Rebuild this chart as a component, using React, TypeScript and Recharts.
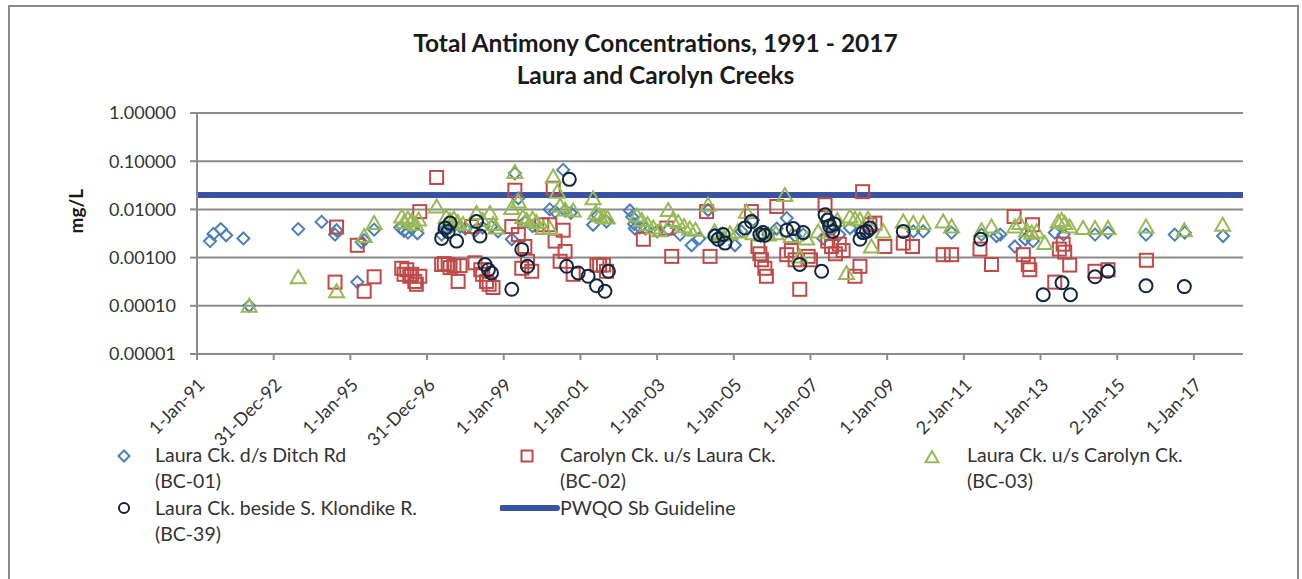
import {
    ScatterChart,
    Scatter,
    XAxis,
    YAxis,
    CartesianGrid,
    ReferenceLine
} from 'recharts';

// [decimal year, mg/L]
const bc01: [number, number][] = [
    [1991.34, 0.0022], [1991.43, 0.0031], [1991.62, 0.0039], [1991.76, 0.0029], [1992.21, 0.0025],
    [1992.36, 0.0001], [1993.64, 0.0039], [1994.25, 0.0055], [1994.6, 0.003], [1994.64, 0.0037],
    [1995.18, 0.00031], [1995.29, 0.0021], [1995.36, 0.0023], [1995.62, 0.0038], [1996.3, 0.0042],
    [1996.4, 0.0036], [1996.5, 0.0033], [1996.6, 0.004], [1996.75, 0.0032], [1997.38, 0.003],
    [1997.45, 0.0038], [1997.6, 0.0042], [1997.86, 0.0044], [1998.0, 0.004], [1998.25, 0.0036],
    [1998.45, 0.0042], [1998.68, 0.0044], [1998.85, 0.0035], [1999.21, 0.0024], [1999.29, 0.056],
    [1999.38, 0.017], [1999.55, 0.0055], [1999.75, 0.0045], [2000.2, 0.01], [2000.34, 0.009],
    [2000.55, 0.066], [2000.6, 0.0095], [2000.75, 0.0085], [2001.33, 0.0048], [2001.45, 0.0075],
    [2001.68, 0.0056], [2002.29, 0.0095], [2002.35, 0.007], [2002.4, 0.005], [2002.42, 0.004],
    [2002.55, 0.0042], [2002.7, 0.004], [2003.0, 0.0035], [2003.3, 0.0038], [2003.6, 0.003],
    [2003.9, 0.0018], [2004.1, 0.0025], [2004.33, 0.0097], [2004.5, 0.003], [2004.7, 0.0025],
    [2005.03, 0.0018], [2005.2, 0.0035], [2005.5, 0.006], [2005.7, 0.0028], [2005.9, 0.003],
    [2006.12, 0.004], [2006.38, 0.0066], [2006.6, 0.0028], [2006.81, 0.003], [2007.33, 0.0025],
    [2007.5, 0.0045], [2007.75, 0.003], [2008.03, 0.0041], [2008.3, 0.0035], [2008.6, 0.0038],
    [2009.68, 0.0035], [2009.94, 0.0035], [2010.68, 0.0033], [2011.46, 0.003], [2011.85, 0.0028],
    [2011.95, 0.003], [2012.33, 0.0017], [2012.6, 0.0024], [2012.8, 0.0022], [2013.37, 0.0033],
    [2013.6, 0.003], [2014.42, 0.003], [2014.76, 0.0033], [2015.75, 0.003], [2016.5, 0.003],
    [2016.76, 0.0033], [2017.76, 0.0028]
];

const bc02: [number, number][] = [
    [1994.6, 0.00031], [1994.64, 0.0043], [1995.18, 0.0018], [1995.36, 0.0002], [1995.62, 0.0004],
    [1996.34, 0.0006], [1996.4, 0.00045], [1996.47, 0.00056], [1996.55, 0.00041], [1996.6, 0.00045],
    [1996.68, 0.00032], [1996.72, 0.00028], [1996.81, 0.00041], [1996.81, 0.009], [1997.25, 0.046],
    [1997.38, 0.00072], [1997.45, 0.00075], [1997.55, 0.00072], [1997.6, 0.00062], [1997.7, 0.00068],
    [1997.81, 0.00032], [1997.86, 0.00068], [1998.16, 0.0044], [1998.25, 0.00078], [1998.4, 0.00056],
    [1998.45, 0.00045], [1998.55, 0.00032], [1998.62, 0.00028], [1998.72, 0.00024], [1999.21, 0.0044],
    [1999.29, 0.025], [1999.38, 0.003], [1999.47, 0.0006], [1999.55, 0.0017], [1999.62, 0.00084],
    [1999.73, 0.00052], [1999.99, 0.0048], [2000.2, 0.0048], [2000.29, 0.0275], [2000.34, 0.0022],
    [2000.47, 0.00084], [2000.55, 0.0037], [2000.6, 0.00134], [2000.81, 0.00045], [2001.43, 0.0007],
    [2001.5, 0.0007], [2001.6, 0.0007], [2001.68, 0.00052], [2002.64, 0.0024], [2003.25, 0.0041],
    [2003.38, 0.00106], [2004.29, 0.009], [2004.38, 0.00106], [2005.46, 0.009], [2005.63, 0.0017],
    [2005.68, 0.0012], [2005.72, 0.0009], [2005.81, 0.0006], [2005.85, 0.00041], [2006.12, 0.0115],
    [2006.38, 0.00115], [2006.5, 0.0014], [2006.6, 0.0009], [2006.72, 0.00022], [2006.94, 0.00106],
    [2007.0, 0.0009], [2007.38, 0.0125], [2007.45, 0.0022], [2007.55, 0.0017], [2007.65, 0.0012],
    [2007.75, 0.0019], [2007.85, 0.0014], [2008.16, 0.00041], [2008.29, 0.00066], [2008.36, 0.0233],
    [2008.55, 0.0048], [2008.68, 0.0052], [2008.94, 0.0017], [2009.42, 0.002], [2009.66, 0.0017],
    [2010.46, 0.00115], [2010.68, 0.00115], [2011.42, 0.0015], [2011.72, 0.00072], [2012.31, 0.0071],
    [2012.55, 0.00115], [2012.68, 0.00072], [2012.72, 0.00056], [2012.79, 0.0048], [2013.37, 0.00031],
    [2013.49, 0.0015], [2013.59, 0.0019], [2013.63, 0.0013], [2013.76, 0.0007], [2014.42, 0.00052],
    [2014.76, 0.00056], [2015.76, 0.00088]
];

const bc03: [number, number][] = [
    [1992.36, 0.0001], [1993.64, 0.00039], [1994.64, 0.0002], [1995.36, 0.0028], [1995.62, 0.0052],
    [1996.34, 0.0071], [1996.4, 0.0055], [1996.5, 0.0065], [1996.6, 0.0058], [1996.7, 0.005],
    [1996.78, 0.0062], [1997.25, 0.0115], [1997.5, 0.007], [1997.6, 0.006], [1997.7, 0.0065],
    [1997.8, 0.0055], [1997.94, 0.005], [1998.29, 0.0084], [1998.45, 0.006], [1998.64, 0.0084],
    [1998.72, 0.005], [1998.8, 0.0042], [1999.21, 0.0107], [1999.29, 0.06], [1999.38, 0.0146],
    [1999.5, 0.007], [1999.6, 0.006], [1999.75, 0.0065], [1999.85, 0.0055], [2000.03, 0.0041],
    [2000.2, 0.0041], [2000.29, 0.048], [2000.4, 0.0233], [2000.47, 0.012], [2000.6, 0.01],
    [2000.81, 0.0095], [2001.33, 0.017], [2001.4, 0.0085], [2001.5, 0.0075], [2001.6, 0.007],
    [2001.7, 0.0068], [2002.47, 0.0075], [2002.6, 0.006], [2002.75, 0.005], [2002.9, 0.0042],
    [2003.07, 0.0037], [2003.29, 0.0097], [2003.4, 0.006], [2003.55, 0.0055], [2003.7, 0.0045],
    [2003.85, 0.004], [2004.0, 0.0038], [2004.33, 0.0125], [2004.5, 0.0035], [2004.7, 0.003],
    [2004.9, 0.0032], [2005.1, 0.0035], [2005.33, 0.009], [2005.5, 0.0032], [2005.7, 0.003],
    [2005.9, 0.003], [2006.1, 0.0032], [2006.33, 0.02], [2006.5, 0.0028], [2006.72, 0.00105],
    [2006.9, 0.0025], [2007.2, 0.0035], [2007.45, 0.0075], [2007.7, 0.006], [2007.94, 0.00048],
    [2008.03, 0.0071], [2008.16, 0.0064], [2008.29, 0.0062], [2008.5, 0.0064], [2008.59, 0.0017],
    [2008.9, 0.0035], [2009.42, 0.0056], [2009.68, 0.0052], [2009.94, 0.0052], [2010.46, 0.0056],
    [2010.68, 0.0044], [2011.46, 0.0037], [2011.72, 0.0044], [2012.33, 0.0044], [2012.46, 0.0052],
    [2012.64, 0.0037], [2012.77, 0.0033], [2012.9, 0.0035], [2013.11, 0.002], [2013.46, 0.0056],
    [2013.55, 0.006], [2013.63, 0.0052], [2013.76, 0.0044], [2014.11, 0.0041], [2014.42, 0.0041],
    [2014.76, 0.0041], [2015.75, 0.0044], [2016.75, 0.0037], [2017.75, 0.0048]
];

const bc39: [number, number][] = [
    [1997.38, 0.0025], [1997.47, 0.0041], [1997.55, 0.0035], [1997.6, 0.0052], [1997.77, 0.0022],
    [1998.29, 0.0056], [1998.38, 0.0028], [1998.51, 0.00072], [1998.6, 0.00056], [1998.68, 0.00048],
    [1999.21, 0.00022], [1999.47, 0.00148], [1999.62, 0.00066], [2000.64, 0.00066], [2000.71, 0.042],
    [2000.94, 0.00048], [2001.2, 0.00041], [2001.42, 0.00026], [2001.64, 0.0002], [2001.73, 0.00052],
    [2004.51, 0.0028], [2004.59, 0.0024], [2004.72, 0.003], [2004.77, 0.002], [2005.29, 0.0041],
    [2005.46, 0.0056], [2005.68, 0.003], [2005.76, 0.0033], [2005.81, 0.0029], [2006.38, 0.0037],
    [2006.55, 0.004], [2006.72, 0.00072], [2006.81, 0.0033], [2007.29, 0.00052], [2007.38, 0.0077],
    [2007.45, 0.006], [2007.5, 0.0045], [2007.58, 0.0035], [2007.62, 0.005], [2008.29, 0.0024],
    [2008.37, 0.0033], [2008.46, 0.0035], [2008.55, 0.0041], [2009.42, 0.0035], [2011.44, 0.0024],
    [2013.07, 0.00017], [2013.56, 0.0003], [2013.78, 0.00017], [2014.42, 0.0004], [2014.76, 0.00052],
    [2015.75, 0.00026], [2016.75, 0.00025]
];

const guideline = 0.02;

const xTickLabels = [
    '1-Jan-91', '31-Dec-92', '1-Jan-95', '31-Dec-96', '1-Jan-99', '1-Jan-01', '1-Jan-03',
    '1-Jan-05', '1-Jan-07', '1-Jan-09', '2-Jan-11', '1-Jan-13', '2-Jan-15', '1-Jan-17'
];
const xTicks = xTickLabels.map((_, i) => 1991 + i * 2);
const yTicks = [0.00001, 0.0001, 0.001, 0.01, 0.1, 1];

const toPoints = (rows: [number, number][]) => rows.map(([date, value]) => ({ date, value }));

const FONT = 'Lato, "Open Sans", sans-serif';
const TEXT = '#333333';

const BLUE = '#4A7EBB';
const RED = '#BE4B48';
const GREEN = '#98B954';
const NAVY = '#10253F';
const LINE = '#3953A4';

const Diamond = ({ cx, cy, s = 6 }: any) => (
    <path d={`M${cx},${cy - s}L${cx + s},${cy}L${cx},${cy + s}L${cx - s},${cy}Z`} fill="none" stroke={BLUE} strokeWidth={2} />
);
const Square = ({ cx, cy, s = 6.5 }: any) => (
    <rect x={cx - s} y={cy - s} width={s * 2} height={s * 2} fill="none" stroke={RED} strokeWidth={2} />
);
const Triangle = ({ cx, cy, s = 7 }: any) => (
    <path d={`M${cx},${cy - s}L${cx + s * 1.07},${cy + s * 0.86}L${cx - s * 1.07},${cy + s * 0.86}Z`} fill="none" stroke={GREEN} strokeWidth={2} />
);
const Ring = ({ cx, cy, s = 6.5 }: any) => (
    <circle cx={cx} cy={cy} r={s} fill="none" stroke={NAVY} strokeWidth={2} />
);

const DateTick = ({ x, y, index }: any) => (
    <text
        x={x + 9}
        y={y + 24}
        transform={`rotate(-45, ${x + 9}, ${y + 24})`}
        textAnchor="end"
        fontFamily={FONT}
        fontSize={18}
        fill={TEXT}
    >
        {xTickLabels[index]}
    </text>
);

function LegendItem({ icon, lines, left, top }: { icon: any; lines: string[]; left: number; top: number }) {
    return (
        <div style={{ position: 'absolute', left, top, fontFamily: FONT, fontSize: 19.5, color: TEXT, lineHeight: '26px', whiteSpace: 'nowrap' }}>
            <svg width={60} height={26} style={{ position: 'absolute', left: -60, top: 0 }}>{icon}</svg>
            {lines.map((l) => <div key={l}>{l}</div>)}
        </div>
    );
}

export default function App() {
    return (
        <div style={{ position: 'relative', width: 1302, height: 579, background: '#fff' }}>
            <style>{'body{margin:0;overflow:hidden}'}</style>
            <div style={{ position: 'absolute', left: 8, top: 5, width: 1291, height: 640, border: '2px solid #8a8a8a', boxSizing: 'border-box' }} />
            <div style={{ position: 'absolute', left: 0, width: 1311, top: 27, textAlign: 'center', fontFamily: FONT, fontWeight: 700, fontSize: 24.5, color: '#1a1a1a', lineHeight: '32px' }}>
                <div>Total Antimony Concentrations, 1991 - 2017</div>
                <div>Laura and Carolyn Creeks</div>
            </div>
            <div style={{ position: 'absolute', left: 0, top: 0 }}>
                <ScatterChart width={1302} height={579} margin={{ top: 113, right: 59, bottom: 135, left: 117 }}>
                    <CartesianGrid horizontal vertical={false} stroke="#8c8c8c" strokeWidth={2} />
                    <XAxis
                        type="number"
                        dataKey="date"
                        domain={[1991, 2018.28]}
                        ticks={xTicks}
                        interval={0}
                        allowDataOverflow
                        height={90}
                        stroke="#8c8c8c"
                        strokeWidth={2}
                        tickSize={6}
                        tick={<DateTick />}
                    />
                    <YAxis
                        type="number"
                        dataKey="value"
                        scale="log"
                        domain={[0.00001, 1]}
                        ticks={yTicks}
                        interval={0}
                        allowDataOverflow
                        width={80}
                        stroke="#8c8c8c"
                        strokeWidth={2}
                        tickSize={7}
                        tickMargin={14}
                        tickFormatter={(v: number) => v.toFixed(5)}
                        tick={{ fontFamily: FONT, fontSize: 18, fill: TEXT }}
                        label={{ value: 'mg/L', angle: -90, position: 'insideLeft', offset: -41, fontFamily: FONT, fontWeight: 700, fontSize: 19, fill: '#1a1a1a' }}
                    />
                    <Scatter name="BC-01" data={toPoints(bc01)} shape={<Diamond />} isAnimationActive={false} />
                    <Scatter name="BC-02" data={toPoints(bc02)} shape={<Square />} isAnimationActive={false} />
                    <Scatter name="BC-03" data={toPoints(bc03)} shape={<Triangle />} isAnimationActive={false} />
                    <Scatter name="BC-39" data={toPoints(bc39)} shape={<Ring />} isAnimationActive={false} />
                    <ReferenceLine y={guideline} stroke={LINE} strokeWidth={6} />
                </ScatterChart>
            </div>
            <LegendItem left={155} top={442} lines={['Laura Ck. d/s Ditch Rd', '(BC-01)']} icon={<Diamond cx={29} cy={14} s={5.5} />} />
            <LegendItem left={560} top={442} lines={['Carolyn Ck. u/s Laura Ck.', '(BC-02)']} icon={<Square cx={27} cy={14} s={5.5} />} />
            <LegendItem left={967} top={442} lines={['Laura Ck. u/s Carolyn Ck.', '(BC-03)']} icon={<Triangle cx={25} cy={15} s={6} />} />
            <LegendItem left={155} top={495} lines={['Laura Ck. beside S. Klondike R.', '(BC-39)']} icon={<Ring cx={29} cy={13} s={5} />} />
            <LegendItem left={560} top={495} lines={['PWQO Sb Guideline']} icon={<line x1={2} y1={13} x2={57} y2={13} stroke={LINE} strokeWidth={6} strokeLinecap="round" />} />
        </div>
    );
}
